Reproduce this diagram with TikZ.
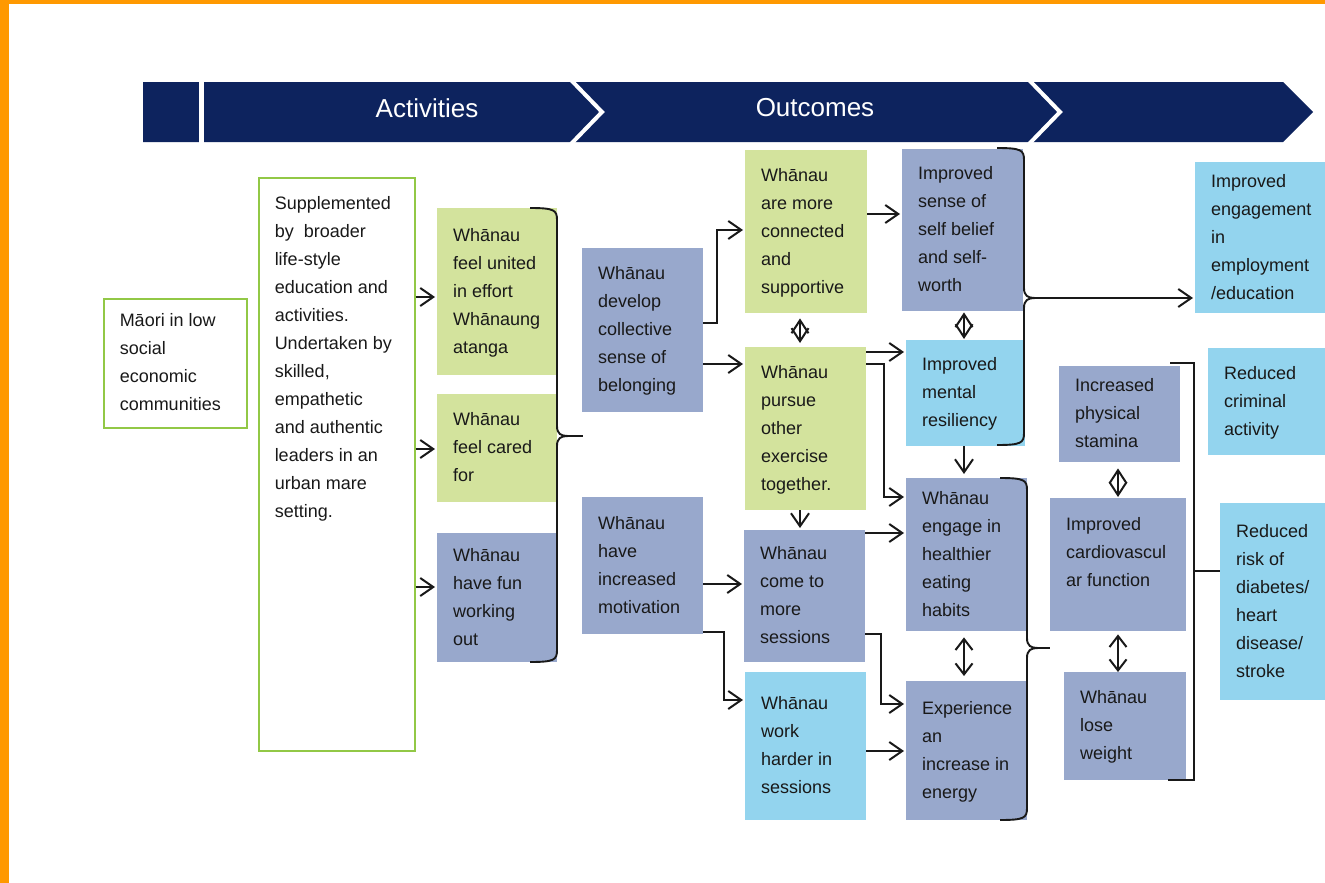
\documentclass[tikz,border=0pt]{standalone}
\usepackage{fontspec}
\setmainfont{Liberation Sans}
\usetikzlibrary{arrows.meta,calc}
\definecolor{navy}{RGB}{13,35,94}
\definecolor{bgrey}{RGB}{152,168,204}
\definecolor{lgreen}{RGB}{211,227,157}
\definecolor{lblue}{RGB}{147,212,238}
\definecolor{bgreen}{RGB}{146,200,70}
\definecolor{orng}{RGB}{255,153,0}
\definecolor{ink}{RGB}{25,25,25}
\newcommand{\Lines}[2]{\makebox[#1][l]{\hspace*{16pt}\begin{tabular}{@{}l@{}}#2\end{tabular}}}
\newcommand{\Brace}[5]{%
  \draw[brc] (#1-27,#2) .. controls (#1-3,#2) and (#1,#2+2) .. (#1,#2+12) -- (#1,#3-10)
    .. controls (#1,#3-2) and (#1+4,#3) .. (#1+11,#3)
    .. controls (#1+4,#3) and (#1,#3+2) .. (#1,#3+10) -- (#1,#4-12)
    .. controls (#1,#4-2) and (#1-3,#4) .. (#1-27,#4);
  \draw[brc] (#1+11,#3) -- (#5,#3);}
\begin{document}
\begin{tikzpicture}[x=1pt,y=-1pt,
  box/.style={inner sep=0pt, anchor=north west, font=\fontsize{18}{28}\selectfont, text=ink},
  wbox/.style={box, draw=bgreen, line width=1.5pt, fill=white},
  arr/.style={draw=ink, line width=2pt, -{Straight Barb[length=13pt,width=18pt]}, shorten >=2pt},
  dbl/.style={draw=ink, line width=2pt, {Straight Barb[length=11pt,width=17pt]}-{Straight Barb[length=11pt,width=17pt]}},
  dia/.style={draw=ink, line width=2pt, {Straight Barb[length=13pt,width=17pt]}-{Straight Barb[length=13pt,width=17pt]}},
  brc/.style={draw=ink, line width=1.9pt},
  ban/.style={text=white, font=\fontsize{26}{30}\selectfont}]
\useasboundingbox (0,0) rectangle (1325,883);
\fill[white] (0,0) rectangle (1325,883);
\fill[orng] (0,0) rectangle (9,883);
\fill[orng] (0,0) rectangle (1325,4);
% banner
\fill[navy] (143,82) -- (1283,82) -- (1313,112) -- (1283,142) -- (143,142) -- cycle;
\draw[white, line width=5pt] (201,80) -- (201,144);
\draw[white, line width=4pt] (571,80) -- (602,112) -- (571,144);
\draw[white, line width=4pt] (1029,80) -- (1060,112) -- (1029,144);
\node[ban] (act) at (427,108) {Activities};
\node[ban] (out) at (815,108) {Outcomes};
% boxes
\node[wbox, minimum width=143pt, minimum height=129pt] (maori) at (103,298) {\Lines{143pt}{Māori in low\\social\\economic\\communities}};
\node[wbox, minimum width=156pt, minimum height=573pt] (sup) at (258,177) {\parbox[c][573pt][t]{156pt}{\vspace*{12.4pt}\hspace*{16pt}\begin{tabular}[t]{@{}l@{}}Supplemented\\by\ \ broader\\life-style\\education and\\activities.\\Undertaken by\\skilled,\\empathetic\\and authentic\\leaders in an\\urban mare\\setting.\end{tabular}}};
\node[box, fill=lgreen, minimum width=120pt, minimum height=167pt] (united) at (437,208) {\Lines{120pt}{Whānau\\feel united\\in effort\\Whānaung\\atanga}};
\node[box, fill=lgreen, minimum width=120pt, minimum height=108pt] (cared) at (437,394) {\Lines{120pt}{Whānau\\feel cared\\for}};
\node[box, fill=bgrey, minimum width=120pt, minimum height=129pt] (fun) at (437,533) {\Lines{120pt}{Whānau\\have fun\\working\\out}};
\node[box, fill=bgrey, minimum width=121pt, minimum height=164pt] (dev) at (582,248) {\Lines{121pt}{Whānau\\develop\\collective\\sense of\\belonging}};
\node[box, fill=bgrey, minimum width=121pt, minimum height=137pt] (mot) at (582,497) {\Lines{121pt}{Whānau\\have\\increased\\motivation}};
\node[box, fill=lgreen, minimum width=122pt, minimum height=163pt] (conn) at (745,150) {\Lines{122pt}{Whānau\\are more\\connected\\and\\supportive}};
\node[box, fill=lgreen, minimum width=121pt, minimum height=163pt] (pursue) at (745,347) {\Lines{121pt}{Whānau\\pursue\\other\\exercise\\together.}};
\node[box, fill=bgrey, minimum width=121pt, minimum height=132pt] (come) at (744,530) {\Lines{121pt}{Whānau\\come to\\more\\sessions}};
\node[box, fill=lblue, minimum width=121pt, minimum height=148pt] (work) at (745,672) {\Lines{121pt}{Whānau\\work\\harder in\\sessions}};
\node[box, fill=bgrey, minimum width=121pt, minimum height=162pt] (sense) at (902,149) {\Lines{121pt}{Improved\\sense of\\self belief\\and self-\\worth}};
\node[box, fill=lblue, minimum width=119pt, minimum height=106pt] (mental) at (906,340) {\Lines{119pt}{Improved\\mental\\resiliency}};
\node[box, fill=bgrey, minimum width=121pt, minimum height=153pt] (engage) at (906,478) {\Lines{121pt}{Whānau\\engage in\\healthier\\eating\\habits}};
\node[box, fill=bgrey, minimum width=121pt, minimum height=139pt] (energy) at (906,681) {\Lines{121pt}{Experience\\an\\increase in\\energy}};
\node[box, fill=bgrey, minimum width=121pt, minimum height=96pt] (stamina) at (1059,366) {\Lines{121pt}{Increased\\physical\\stamina}};
\node[box, fill=bgrey, minimum width=136pt, minimum height=133pt] (cardio) at (1050,498) {\Lines{136pt}{Improved\\cardiovascul\\ar function\\[24pt]}};
\node[box, fill=bgrey, minimum width=122pt, minimum height=108pt] (lose) at (1064,672) {\Lines{122pt}{Whānau\\lose\\weight}};
\node[box, fill=lblue, minimum width=130pt, minimum height=151pt] (impeng) at (1195,162) {\Lines{130pt}{Improved\\engagement\\in\\employment\\/education}};
\node[box, fill=lblue, minimum width=117pt, minimum height=107pt] (crim) at (1208,348) {\Lines{117pt}{Reduced\\criminal\\activity}};
\node[box, fill=lblue, minimum width=105pt, minimum height=197pt] (risk) at (1220,503) {\Lines{105pt}{Reduced\\risk of\\diabetes/\\heart\\disease/\\stroke}};
% connectors
\draw[arr] (sup.east |- 0,297) -- (united.west |- 0,297);
\draw[arr] (sup.east |- 0,449) -- (cared.west |- 0,449);
\draw[arr] (sup.east |- 0,587) -- (fun.west |- 0,587);
\Brace{557}{208}{436}{662}{583}
\draw[arr] (dev.east |- 0,323) -| (717,230) -- (conn.west |- 0,230);
\draw[arr] (dev.east |- 0,364) -- (pursue.west |- 0,364);
\draw[arr] (mot.east |- 0,584) -- (come.west |- 0,584);
\draw[arr] (mot.east |- 0,632) -| (724,700) -- (work.west |- 0,700);
\draw[arr] (conn.east |- 0,214) -- (sense.west |- 0,214);
\draw[dia, shorten <=5pt, shorten >=4pt] (800,0 |- conn.south) -- (800,0 |- pursue.north);
\draw[arr] (800,0 |- pursue.south) -- (800,0 |- come.north);
\draw[arr] (pursue.east |- 0,352) -- (mental.west |- 0,352);
\draw[arr] (pursue.east |- 0,364) -| (884,497) -- (engage.west |- 0,497);
\draw[dia, shorten <=1pt, shorten >=1pt] (964,0 |- sense.south) -- (964,0 |- mental.north);
\draw[arr, shorten >=4pt] (964,0 |- mental.south) -- (964,0 |- engage.north);
\draw[arr] (come.east |- 0,533) -- (engage.west |- 0,533);
\draw[arr] (come.east |- 0,634) -| (881,704) -- (energy.west |- 0,704);
\draw[arr] (work.east |- 0,751) -- (energy.west |- 0,751);
\draw[dbl, shorten <=6pt, shorten >=5pt] (964,0 |- engage.south) -- (964,0 |- energy.north);
\Brace{1024}{148}{298}{445}{1035}
\coordinate (b2tip) at (1035,298);
\draw[arr] (b2tip) -- (impeng.west |- b2tip);
\Brace{1027}{478}{648}{820}{1050}
\draw[dia, shorten <=6pt, shorten >=1pt] (1118,0 |- stamina.south) -- (1118,0 |- cardio.north);
\draw[dbl, shorten <=3pt] (1118,0 |- cardio.south) -- (1118,0 |- lose.north);
\draw[brc] (1170,0 |- stamina.north) ++(0,-3) -- (1194,363) -- (1194,780) -- (1168,780);
\draw[brc] (1194,571) -- (risk.west |- 0,571);
\end{tikzpicture}
\end{document}
